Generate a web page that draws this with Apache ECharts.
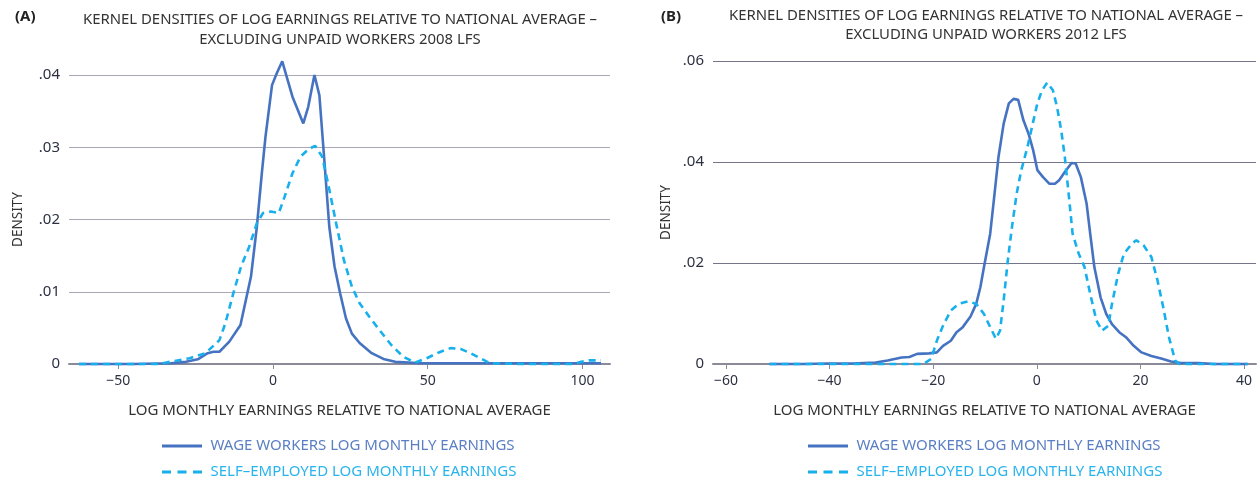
<!DOCTYPE html>
<html>
<head>
<meta charset="utf-8">
<script src="https://cdn.jsdelivr.net/npm/echarts@6/dist/echarts.min.js"></script>
<style>
  html, body { margin: 0; padding: 0; background: #fff; }
  #chart { width: 1257px; height: 483px; }
</style>
</head>
<body>
<div id="chart"></div>
<script>
// Panel A: 2008 LFS
const wageA_x = [-62.7,-45,-33,-28.1,-24.3,-21.1,-19.2,-17.3,-14.1,-10.5,-7.1,-5.2,-3.6,-2.4,-0.3,1.2,3.0,6.3,9.8,11.4,13.4,15.0,16.6,18.2,19.9,21.7,23.6,25.5,28.0,31.9,35.7,39.5,48,70,90,106];
const wageA_y = [0,0,0.0001,0.0003,0.00065,0.0015,0.0017,0.0017,0.0031,0.0054,0.0121,0.019,0.0264,0.0315,0.0386,0.0402,0.0419,0.037,0.0333,0.0356,0.040,0.0372,0.0282,0.019,0.0135,0.0098,0.0063,0.0042,0.0029,0.0015,0.0007,0.0003,0.0001,0.0001,0.0001,0.0001];
const selfA_x = [-62.7,-45,-37,-32,-26.9,-21.8,-17.3,-15.4,-12.8,-10.3,-7.7,-5.2,-3.2,-0.7,1.9,3.8,6.3,8.9,11.4,13.6,15.9,17.8,20.4,22.9,25.5,28,31.2,34.4,38.3,42.1,45.9,49.7,53.6,57.4,60.6,63.8,67,70.2,80,96.9,99.6,102.1,106];
const selfA_y = [0,0,0,0.0004,0.0008,0.0015,0.0033,0.0056,0.0098,0.0135,0.0162,0.0195,0.0209,0.0211,0.0209,0.0232,0.0264,0.0287,0.0297,0.0302,0.0287,0.025,0.0195,0.0144,0.0107,0.0084,0.0065,0.0047,0.0026,0.001,0.0002,0.0008,0.0016,0.0022,0.0021,0.0015,0.0008,0.0001,0,0,0.0003,0.0005,0.0005];

// Panel B: 2012 LFS
const wageB_x = [-51.6,-45,-40.2,-35.6,-31.1,-28.8,-26.1,-24.6,-23.1,-20.8,-19.3,-18.1,-16.6,-15.5,-14.3,-12.8,-11.7,-10.9,-10.2,-9.0,-8.3,-7.4,-6.4,-5.4,-4.5,-3.6,-2.6,-1.6,-0.7,0.1,1.2,2.4,3.5,4.3,5.4,6.7,7.5,8.5,9.6,10.3,11.1,12.3,13.4,14.5,15.9,17.2,18.7,20.2,22.1,24.0,25.9,27.8,31.2,34.3,40.7];
const wageB_y = [0,0,0.0001,0.0001,0.0003,0.0007,0.0013,0.0014,0.002,0.0021,0.0023,0.0036,0.0046,0.0063,0.0073,0.0094,0.0119,0.0152,0.0192,0.0258,0.0324,0.041,0.0476,0.0516,0.0525,0.0523,0.0483,0.0456,0.0423,0.0384,0.037,0.0357,0.0357,0.0364,0.038,0.0398,0.0397,0.037,0.0318,0.0258,0.0192,0.0132,0.0099,0.0079,0.0063,0.0053,0.0036,0.0023,0.0016,0.0011,0.0005,0.0002,0.0002,0,0];
const selfB_x = [-51.6,-40,-30,-21.9,-20.4,-19.3,-18.1,-16.6,-15.1,-13.2,-11.7,-10.2,-9.0,-7.9,-7.1,-6.4,-5.6,-4.8,-3.9,-3.0,-1.8,-0.7,0.1,1.0,2.0,3.1,3.9,4.7,5.4,6.2,6.9,8.1,9.2,10.3,11.5,12.6,13.8,14.5,15.7,16.8,18.3,19.2,20.6,22.1,23.3,24.4,25.5,26.7,27.5,35,40.7];
const selfB_y = [0,0,0,0,0.001,0.0046,0.0076,0.0106,0.0119,0.0124,0.0119,0.0099,0.0073,0.005,0.0066,0.0126,0.0205,0.0271,0.0337,0.0384,0.043,0.048,0.0516,0.0542,0.0557,0.0542,0.0509,0.0463,0.041,0.0331,0.0258,0.0218,0.0192,0.0139,0.0086,0.0066,0.0076,0.0119,0.0179,0.0218,0.0238,0.0245,0.0235,0.0212,0.0165,0.0112,0.0053,0.0007,0,0,0];

const xTicksA = [-50, 0, 50, 100];
const xTicksB = [-60, -40, -20, 0, 20, 40];

const titleA = 'KERNEL DENSITIES OF LOG EARNINGS RELATIVE TO NATIONAL AVERAGE –\nEXCLUDING UNPAID WORKERS 2008 LFS';
const titleB = 'KERNEL DENSITIES OF LOG EARNINGS RELATIVE TO NATIONAL AVERAGE –\nEXCLUDING UNPAID WORKERS 2012 LFS';
const xName = 'LOG MONTHLY EARNINGS RELATIVE TO NATIONAL AVERAGE';
const yName = 'DENSITY';
const wageName = 'WAGE WORKERS LOG MONTHLY EARNINGS';
const selfName = 'SELF–EMPLOYED LOG MONTHLY EARNINGS';

const FONT = '"Noto Sans", sans-serif';
const WAGE_COLOR = '#4673c1';
const SELF_COLOR = '#17b0ec';

// Legend keys: a solid bar and a three-dash bar
const SOLID_ICON = 'path://M0,0H40V3H0Z';
const DASH_ICON = 'path://M0,0H9V3H0Z M15.5,0H24.5V3H15.5Z M31,0H40V3H31Z';

const pairs = (xs, ys) => xs.map((x, i) => [x, ys[i]]);
const minusFmt = v => String(v).replace('-', '−');
const densFmt = v => v === 0 ? '0' : v.toFixed(2).replace(/^0/, '');

function xAxisFor(gridIndex, min, max, ticks) {
  return {
    type: 'value', gridIndex, min, max,
    name: xName, nameLocation: 'middle', nameGap: 39,
    nameTextStyle: { fontFamily: FONT, fontSize: 15, color: '#333' },
    axisLine: { show: true, onZero: false, lineStyle: { color: '#8a8a98', width: 2 } },
    axisTick: { show: true, length: 5, customValues: ticks, lineStyle: { color: '#8a8a98' } },
    axisLabel: { customValues: ticks, formatter: minusFmt, fontFamily: FONT, fontSize: 14, color: '#2c3142', margin: 10 },
    splitLine: { show: false }
  };
}
function yAxisFor(gridIndex, max, interval, gridColor, nameGap) {
  return {
    type: 'value', gridIndex, min: 0, max, interval,
    name: yName, nameLocation: 'middle', nameGap, nameRotate: 90,
    nameTextStyle: { fontFamily: FONT, fontSize: 13.5, color: '#333' },
    axisLine: { show: false }, axisTick: { show: false },
    axisLabel: { formatter: densFmt, fontFamily: FONT, fontSize: 15, color: '#2c3142', margin: 9 },
    splitLine: { show: true, lineStyle: { color: gridColor, width: 1.2 } }
  };
}
function lineSeries(name, data, xi, dashed) {
  return {
    type: 'line', name, data, xAxisIndex: xi, yAxisIndex: xi,
    symbol: 'none', clip: false, smooth: false,
    lineStyle: { color: dashed ? SELF_COLOR : WAGE_COLOR, width: 2.6, type: dashed ? [7, 5] : 'solid' },
    itemStyle: { color: dashed ? SELF_COLOR : WAGE_COLOR }
  };
}
function legendAt(left) {
  return {
    orient: 'vertical', left, top: 437, itemWidth: 41, itemHeight: 3, itemGap: 8,
    selectedMode: false, padding: 0,
    textStyle: { fontFamily: FONT, fontSize: 15, lineHeight: 18, padding: [0, 0, 0, 3] },
    data: [
      { name: wageName, icon: SOLID_ICON, itemStyle: { color: WAGE_COLOR }, textStyle: { color: '#5b7fc4' } },
      { name: selfName, icon: DASH_ICON, itemStyle: { color: SELF_COLOR }, textStyle: { color: '#2ab4ec' } }
    ]
  };
}

const chart = echarts.init(document.getElementById('chart'), null, { renderer: 'canvas' });
chart.setOption({
  animation: false,
  backgroundColor: '#fff',
  title: [
    { text: '(A)', left: 10, top: 4, textStyle: { fontFamily: FONT, fontSize: 15, fontWeight: 'bold', color: '#222' } },
    { text: titleA, left: 335, top: 5, textAlign: 'center',
      textStyle: { fontFamily: FONT, fontSize: 14.9, fontWeight: 'normal', color: '#333', lineHeight: 20 } },
    { text: '(B)', left: 656, top: 4, textStyle: { fontFamily: FONT, fontSize: 15, fontWeight: 'bold', color: '#222' } },
    { text: titleB, left: 981, top: 1.5, textAlign: 'center',
      textStyle: { fontFamily: FONT, fontSize: 14.9, fontWeight: 'normal', color: '#333', lineHeight: 19 } }
  ],
  grid: [
    { left: 69, right: 647, top: 75, bottom: 119, containLabel: false },
    { left: 713, right: 1, top: 61, bottom: 119, containLabel: false }
  ],
  xAxis: [
    xAxisFor(0, -65.9, 108.9, xTicksA),
    xAxisFor(1, -62.5, 42.3, xTicksB)
  ],
  yAxis: [
    yAxisFor(0, 0.04, 0.01, '#aaa8b6', 44),
    yAxisFor(1, 0.06, 0.02, '#74748a', 40)
  ],
  legend: [legendAt(162), legendAt(808)],
  series: [
    lineSeries(wageName, pairs(wageA_x, wageA_y), 0, false),
    lineSeries(selfName, pairs(selfA_x, selfA_y), 0, true),
    lineSeries(wageName, pairs(wageB_x, wageB_y), 1, false),
    lineSeries(selfName, pairs(selfB_x, selfB_y), 1, true)
  ]
});
</script>
</body>
</html>
